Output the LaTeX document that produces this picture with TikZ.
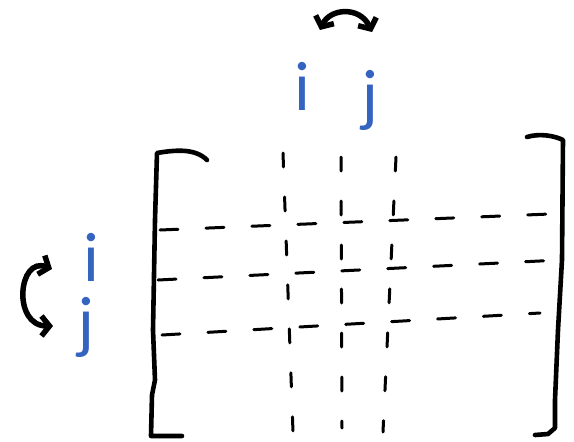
\documentclass[tikz,border=0pt]{standalone}
\usepackage{fontspec}
\setmainfont{Lato}
\usetikzlibrary{arrows.meta}
\definecolor{penblue}{HTML}{3563C0}
\tikzset{
  lbl/.style={text=penblue,font=\fontsize{66}{66}\selectfont,inner sep=0pt,anchor=base},
  bracket/.style={line width=4.6pt,line cap=round,line join=round},
  grid/.style={line width=3pt,line cap=round,dash pattern=on 18pt off 28pt},
  vgrid/.style={line width=3pt,line cap=round,dash pattern=on 14pt off 30pt},
  swap/.style={line width=5.5pt,line cap=round,{Straight Barb[length=8pt,width=20pt]}-{Straight Barb[length=8pt,width=20pt]}}
}
\begin{document}
\begin{tikzpicture}[x=1pt,y=-1pt]
\useasboundingbox (0,0) rectangle (574,442);
% labels
\node[lbl] (ti) at (302,110) {i};
\node[lbl] (tj) at (370,118) {j};
\node[lbl] (li) at (91,281) {i};
\node[lbl] (lj) at (86,345) {j};
% swap arrows
\coordinate (ta) at (320,30);
\coordinate (tb) at (372,32);
\draw[swap] (ta) .. controls (330,8) and (360,6) .. (tb);
\coordinate (la) at (52,269);
\coordinate (lb) at (53,326);
\draw[swap] (la) .. controls (18,256) and (12,326) .. (lb);
% brackets
\draw[bracket] (207,160) .. controls (195,148) and (175,150) .. (157,153)
  -- (155,220) -- (153,330) -- (155,380) -- (152,395) -- (151,436) -- (182,436);
\draw[bracket] (527,137) .. controls (540,133) and (555,136) .. (563,140)
  -- (562,260) -- (558,330) -- (555,400) -- (555,428) -- (548,434) -- (535,435);
% horizontal dashed
\coordinate (h1a) at (160,230); \coordinate (h1b) at (550,214);
\coordinate (h2a) at (158,280); \coordinate (h2b) at (560,260);
\coordinate (h3a) at (162,335); \coordinate (h3b) at (540,313);
\draw[grid] (h1a) -- (h1b);
\draw[grid] (h2a) -- (h2b);
\draw[grid] (h3a) -- (h3b);
% vertical dashed
\coordinate (v1a) at (283,153); \coordinate (v1b) at (293,432);
\coordinate (v2a) at (341,157); \coordinate (v2b) at (342,428);
\coordinate (v3a) at (396,157); \coordinate (v3b) at (383,432);
\draw[vgrid] (v1a) -- (v1b);
\draw[vgrid] (v2a) -- (v2b);
\draw[vgrid] (v3a) -- (v3b);
\end{tikzpicture}
\end{document}
